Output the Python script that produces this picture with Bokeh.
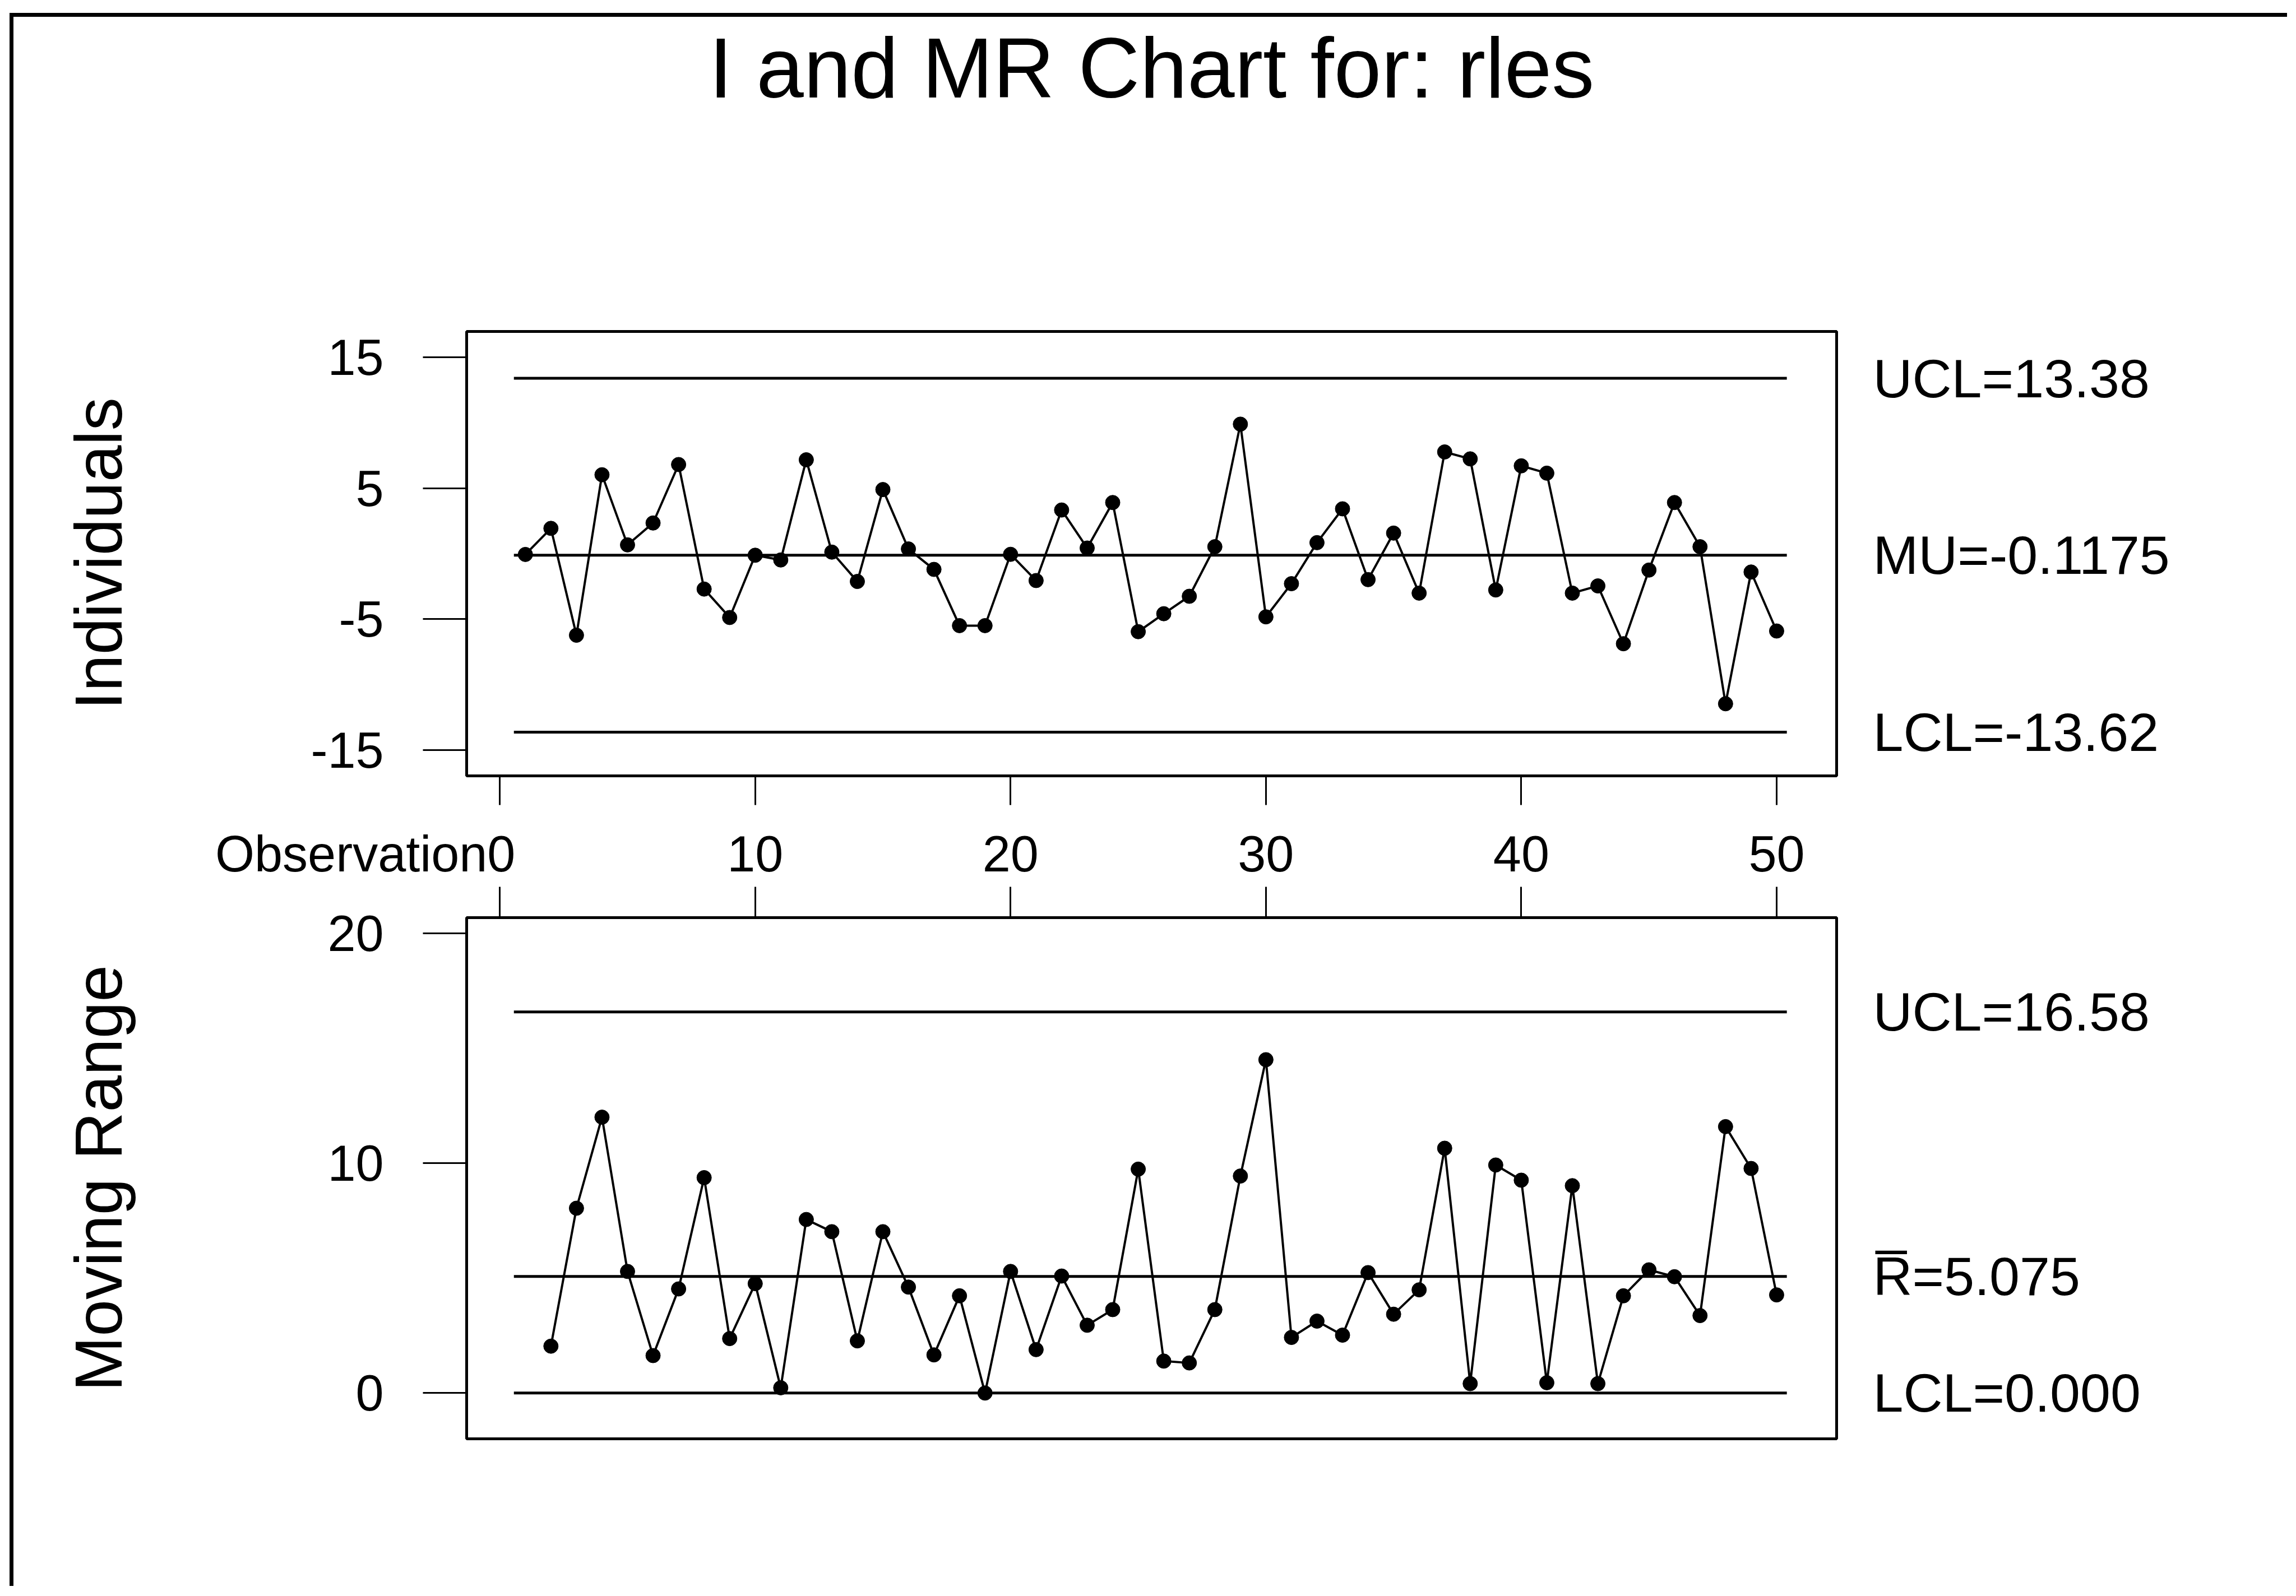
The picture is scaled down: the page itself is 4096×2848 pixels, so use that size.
from bokeh.plotting import figure
from bokeh.models import LinearAxis, FixedTicker, Range1d, AllLabels
from bokeh.layouts import column
from bokeh.embed import file_html
from bokeh.resources import INLINE

FONT = "Liberation Sans"

# ---------------- data ----------------
obs = list(range(1, 51))
individuals = [-0.06, 1.93, -6.22, 6.02, 0.67, 2.34, 6.80, -2.70, -4.87, -0.12,
               -0.48, 7.16, 0.12, -2.12, 4.89, 0.36, -1.20, -5.49, -5.49, -0.05,
               -2.05, 3.33, 0.43, 3.90, -5.95, -4.58, -3.25, 0.53, 9.88, -4.82,
               -2.29, 0.84, 3.42, -1.98, 1.57, -3.01, 7.76, 7.23, -2.77, 6.70,
               6.14, -3.01, -2.46, -6.87, -1.25, 3.90, 0.53, -11.45, -1.40, -5.90]
mr_obs = obs[1:]
moving_range = [2.04, 8.04, 12.00, 5.29, 1.63, 4.53, 9.37, 2.37, 4.76, 0.23,
                7.55, 7.02, 2.27, 7.02, 4.61, 1.66, 4.23, 0.00, 5.29, 1.89,
                5.09, 2.95, 3.63, 9.74, 1.39, 1.31, 3.63, 9.44, 14.50, 2.42,
                3.13, 2.52, 5.24, 3.43, 4.49, 10.65, 0.41, 9.92, 9.26, 0.45,
                9.02, 0.41, 4.23, 5.36, 5.06, 3.37, 11.59, 9.77, 4.27]

I_UCL, I_MU, I_LCL = 13.38, -0.1175, -13.62
MR_UCL, MR_BAR, MR_LCL = 16.58, 5.075, 0.000

x_ticks = [0, 10, 20, 30, 40, 50]
i_ticks = [15, 5, -5, -15]
mr_ticks = [20, 10, 0]

TITLE = "I and MR Chart for: rles"
X_NAME = "Observation"
i_limit_labels = {I_UCL: "UCL=%.2f" % I_UCL, I_MU: "MU=%.4f" % I_MU, I_LCL: "LCL=%.2f" % I_LCL}
mr_limit_labels = {MR_UCL: "UCL=%.2f" % MR_UCL, MR_BAR: "R\u0305=%.3f" % MR_BAR,
                   MR_LCL: "LCL=%.3f" % MR_LCL}

# ---------------- layout constants ----------------
W = 4056
H_T, H_A, H_B = 300, 1250, 1250
X_RANGE = (-1.3, 52.35)
I_RANGE = (-16.95, 16.95)
MR_RANGE = (-1.99, 20.68)
BORDER_L, BORDER_R = 808, 804

TICK_FS = "90px"
LIM_FS = "97px"
AXL_FS = "118px"
BLACK = "black"


def base_fig(height, x_range, y_range, **kw):
    p = figure(width=W, height=height, output_backend="svg", toolbar_location=None,
               x_range=x_range, y_range=y_range,
               min_border_left=BORDER_L, min_border_right=BORDER_R, **kw)
    p.grid.visible = False
    p.background_fill_color = "white"
    p.border_fill_color = "white"
    return p


def style_chart(p):
    p.outline_line_color = BLACK
    p.outline_line_width = 5


def style_left_axis(ax, ticks, label, label_standoff):
    ax.ticker = FixedTicker(ticks=ticks)
    ax.major_label_overrides = {t: str(t) for t in ticks}
    ax.major_tick_out = 78
    ax.major_tick_in = 0
    ax.minor_tick_out = 0
    ax.minor_tick_in = 0
    ax.major_tick_line_width = 3
    ax.major_tick_line_color = BLACK
    ax.axis_line_color = None
    ax.major_label_standoff = 70
    ax.major_label_text_font = FONT
    ax.major_label_text_font_size = TICK_FS
    ax.major_label_text_color = BLACK
    ax.axis_label = label
    ax.axis_label_text_font = FONT
    ax.axis_label_text_font_size = AXL_FS
    ax.axis_label_text_font_style = "normal"
    ax.axis_label_text_color = BLACK
    ax.axis_label_standoff = label_standoff


def style_x_ticks(ax, tick_out):
    ax.ticker = FixedTicker(ticks=x_ticks)
    ax.major_tick_out = tick_out
    ax.major_tick_in = 0
    ax.minor_tick_out = 0
    ax.minor_tick_in = 0
    ax.major_tick_line_width = 3
    ax.major_tick_line_color = BLACK
    ax.axis_line_color = None


def limit_axis(ticks, labels):
    ax = LinearAxis(ticker=FixedTicker(ticks=ticks), major_label_overrides=labels)
    ax.major_tick_out = 0
    ax.major_tick_in = 0
    ax.major_tick_line_color = None
    ax.minor_tick_line_color = None
    ax.axis_line_color = None
    ax.major_label_standoff = 65
    ax.major_label_text_font = FONT
    ax.major_label_text_font_size = LIM_FS
    ax.major_label_text_color = BLACK
    return ax


line_start = obs[0] - 0.45
line_end = obs[-1] + 0.4

# ---------------- title strip ----------------
pt = base_fig(H_T, Range1d(0, 1), Range1d(0, 1), title=TITLE,
              x_axis_location=None, y_axis_location=None,
              min_border_top=0, min_border_bottom=0)
pt.outline_line_color = None
pt.title.align = "center"
pt.title.text_font = FONT
pt.title.text_font_size = "152px"
pt.title.text_font_style = "normal"
pt.title.text_color = BLACK
pt.title.standoff = 6

# ---------------- Individuals chart ----------------
pa = base_fig(H_A, Range1d(*X_RANGE), Range1d(*I_RANGE),
              min_border_top=261, min_border_bottom=196)
style_chart(pa)

xa = pa.xaxis[0]
style_x_ticks(xa, 52)
# "Observation" sits directly left of the 0 label; trailing em-spaces balance its width
pad = "\u2003" * 5 + "\u2004"
xa.major_label_overrides = {t: (X_NAME + str(t) + pad if t == x_ticks[0] else str(t))
                            for t in x_ticks}
xa.major_label_policy = AllLabels()
xa.major_label_standoff = 37
xa.major_label_text_font = FONT
xa.major_label_text_font_size = TICK_FS
xa.major_label_text_color = BLACK

style_left_axis(pa.yaxis[0], i_ticks, "Individuals", 309)
pa.add_layout(limit_axis([I_UCL, I_MU, I_LCL], i_limit_labels), "right")

limits_i = [I_UCL, I_MU, I_LCL]
pa.segment(x0=[line_start] * 3, y0=limits_i, x1=[line_end] * 3, y1=limits_i,
           line_color=BLACK, line_width=5)
pa.line(obs, individuals, line_color=BLACK, line_width=4)
pa.scatter(obs, individuals, size=26, fill_color=BLACK, line_color=BLACK)

# ---------------- Moving Range chart ----------------
pb = base_fig(H_B, pa.x_range, Range1d(*MR_RANGE), x_axis_location="above",
              min_border_top=57, min_border_bottom=263)
style_chart(pb)

xb = pb.xaxis[0]
style_x_ticks(xb, 55)
xb.major_label_standoff = 0
xb.major_label_text_font_size = "0px"
xb.major_label_overrides = {t: "" for t in x_ticks}

style_left_axis(pb.yaxis[0], mr_ticks, "Moving Range", 339)
pb.add_layout(limit_axis([MR_UCL, MR_BAR, MR_LCL], mr_limit_labels), "right")

limits_mr = [MR_UCL, MR_BAR, MR_LCL]
pb.segment(x0=[line_start] * 3, y0=limits_mr, x1=[line_end] * 3, y1=limits_mr,
           line_color=BLACK, line_width=5)
pb.line(mr_obs, moving_range, line_color=BLACK, line_width=4)
pb.scatter(mr_obs, moving_range, size=26, fill_color=BLACK, line_color=BLACK)

# page frame (left and top edges) drawn as the layout's border
layout = column(pt, pa, pb, margin=(23, 0, 0, 17),
                styles={"border-left": "7px solid black", "border-top": "7px solid black"})
open("out.html", "w").write(file_html(layout, INLINE))
